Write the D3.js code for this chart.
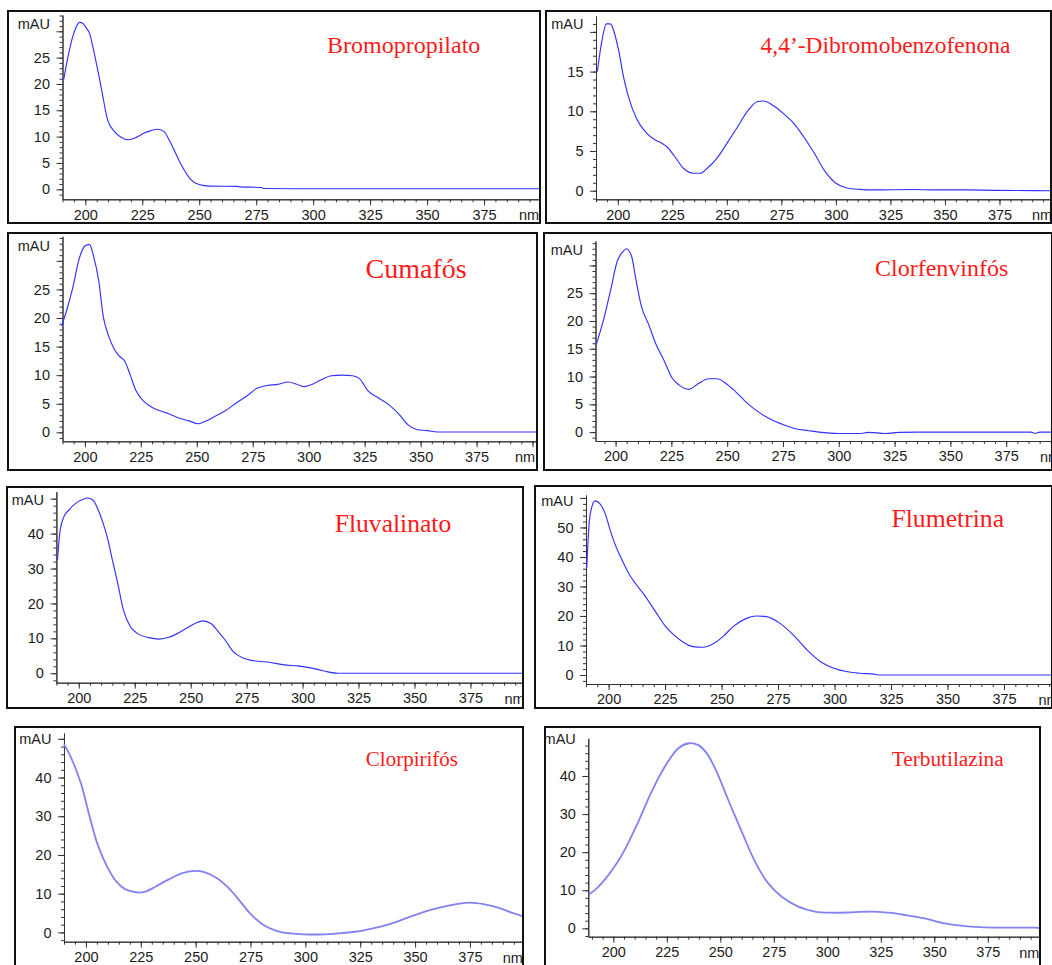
<!DOCTYPE html>
<html>
<head>
<meta charset="utf-8">
<script src="https://cdn.jsdelivr.net/npm/d3@7"></script>
<style>
  body { margin: 0; background: #fff; }
  svg { display: block; }
</style>
</head>
<body>
<svg id="chart" width="1052" height="965"></svg>
<script>
// UV spectra, pairs of [nm, mAU]
var bromopropilato = [[190.5,20.8],[192.3,24.9],[194.5,29],[196,30.8],[197.5,31.7],[199,31.5],[200.5,30.6],[201.8,29.7],
  [203.9,25.9],[206.9,19.5],[209.8,13.2],[212.7,11],[215.7,9.9],[218.6,9.4],[221.5,9.7],[225.5,10.6],[228.5,11.1],
  [231.6,11.4],[234.5,11],[237,9.2],[239.5,7],[242.3,4.5],[246,2],[249.9,0.9],[254.5,0.6],[266.7,0.55],[268,0.45],
  [277.4,0.35],[278,0.15],[300,0.1],[400,0.1]];
var dibromobenzofenona = [[190.6,15],[192.8,19],[194.7,21],[196.6,21],[198.5,19.8],[200.5,17.5],[202.5,14.5],[204.6,12.1],
  [208.9,8.9],[213.4,7.2],[217.2,6.4],[220,6],[222.6,5.5],[225.6,4.5],[230.2,2.8],[234.8,2.2],[237.8,2.2],[240.9,2.8],
  [245.5,4.1],[250.1,6],[254.6,7.9],[260,10.2],[263.8,11.2],[266.8,11.3],[271.4,10.7],[276,9.7],[280.6,8.5],[285.2,6.8],
  [289.7,4.9],[295.1,2.4],[299.7,1],[305,0.35],[311,0.17],[317,0.1],[336,0.15],[345,0.1],[360,0.1],[372,0.05],[400,0]];
var cumafos = [[189.6,18.6],[192.2,21.8],[194.6,25.3],[197.4,30.3],[200,32.6],[202,32.9],[203.9,30.8],[206.2,26.5],
  [208.2,20.3],[210.4,17.1],[213.2,14.5],[215.5,13.3],[217.9,12.4],[220.2,10.1],[222.8,7.3],[226.4,5.4],[230.3,4.3],
  [236.5,3.4],[241.9,2.5],[246.6,2],[250.5,1.5],[253.6,1.9],[258.2,2.8],[262.9,3.8],[267.5,5.1],[272.2,6.3],[276.9,7.7],
  [281.5,8.2],[286.2,8.4],[290.8,8.8],[294.7,8.4],[297.8,8],[301.7,8.4],[305.6,9.2],[310.2,9.9],[314.9,10],[319.6,9.9],
  [322.7,9.4],[326.6,7.2],[331.2,6],[335.9,4.8],[340.5,3.1],[344.4,1.3],[348.3,0.5],[353,0.3],[357.6,0.05],[402,0.05]];
var clorfenvinfos = [[191.3,15.7],[194.8,20.5],[197.8,25.6],[200.7,30.7],[203.3,32.5],[204.8,33],[207.2,31.6],[209,27.7],
  [211.6,22.6],[214.9,19.3],[217.9,16],[221.6,13],[225.4,9.7],[228.4,8.5],[232.8,7.7],[237.3,8.8],[241.8,9.6],[245.5,9.6],
  [249.3,8.8],[253.7,7.3],[258.2,5.5],[262.7,4],[267.2,2.8],[271.6,1.9],[276.1,1.2],[280.6,0.6],[286.6,0.25],[291,0],
  [300,-0.25],[309,-0.25],[313.4,-0.05],[320.9,-0.25],[326.9,-0.05],[335.8,0],[386,0],[388,-0.2],[390,0],[400,0]];
var fluvalinato = [[190.5,32.5],[191.7,41.1],[193.5,45],[195.8,46.9],[198.3,48.5],[201.1,49.6],[203.8,50.2],[206.3,49.6],
  [208.6,46.9],[210.6,43.5],[212.8,38.8],[215,32.5],[217.4,25.8],[219.9,18.2],[223,13.4],[226,11.5],[231.3,10.2],
  [235.8,9.8],[240.3,10.3],[244.9,11.7],[249.4,13.4],[253.2,14.6],[255.4,15],[259.2,14.2],[262.2,12],[265.3,9.6],
  [269,6.2],[273.6,4.3],[278.1,3.6],[285.6,3.1],[291.7,2.4],[297.7,2.1],[302.3,1.7],[306.8,1.1],[311.3,0.4],[315.9,0],[400,0]];
var flumetrina = [[190.3,36.1],[191.4,51.4],[192.6,57],[194,59],[196.3,57.9],[198.5,54.7],[200.7,49.1],[203,44],[206,38.9],
  [208.9,34.4],[211.9,31],[216.4,26.5],[220.8,21.4],[225.3,16.4],[229,13.5],[232.7,11.3],[237.2,9.6],[241.7,9.4],
  [246.1,10.5],[250.6,13],[255.1,16.4],[261,19.2],[265.5,20],[269.9,19.8],[275.9,17.5],[281.8,13.5],[287.8,8.5],
  [293.8,4.5],[299.7,2.3],[305.7,1.1],[310.9,0.6],[317.6,0.3],[319,0],[400,0]];
var clorpirifos = [[190,48.6],[193.1,45.3],[197.7,38.5],[201.5,30.3],[205.4,22.6],[210,16.6],[213.9,13.1],[217.7,11.2],
  [221.5,10.5],[224.5,10.3],[227.5,10.6],[231.6,11.8],[237.8,13.7],[243.9,15.3],[249.3,15.9],[253.2,15.7],[259.4,14.1],
  [264,12],[268.6,9.2],[274.8,4.9],[280.9,1.9],[287.1,0.35],[293.3,-0.26],[299.4,-0.5],[308.7,-0.5],[314.9,-0.26],[322.6,0.17],
  [330.3,1],[338,2.1],[345.7,3.6],[353.4,5.2],[361.1,6.4],[368.8,7.3],[375,7.7],[381.2,7.3],[388.9,6.2],[395,4.9],[400,4]];
var terbutilazina = [[188.5,8.9],[191.5,10.1],[194.5,11.8],[197,13.5],[199.5,15.4],[202.5,17.9],[205.5,20.8],[211.7,28],
  [217.9,35.9],[224.1,42.5],[230.4,47.3],[235.4,48.6],[239.7,48.1],[243.6,46],[248.3,41.1],[253.7,33.7],[260,25.4],
  [266.2,17.5],[272.4,11.8],[278.7,8.3],[286.4,5.7],[294.2,4.4],[302,4.1],[311.4,4.2],[320.7,4.4],[328.5,4.1],[336.3,3.5],
  [345.6,2.6],[355,1.3],[364.3,0.6],[373.7,0.26],[384.6,0.17],[397,0.17],[400,0.05]];

var titles = ["Bromopropilato", "4,4\u2019-Dibromobenzofenona", "Cumafós", "Clorfenvinfós",
              "Fluvalinato", "Flumetrina", "Clorpirifós", "Terbutilazina"];
var spectra = [bromopropilato, dibromobenzofenona, cumafos, clorfenvinfos,
               fluvalinato, flumetrina, clorpirifos, terbutilazina];
var xLabelTicks = [200, 225, 250, 275, 300, 325, 350, 375];
var yUnit = "mAU", xUnit = "nm";

// where each screenshot sits on the page
var layout = [
  {box:[8,11,540,223],    xd:[190,400],   xr:[62.5,541],    yd:[-1.9,33.1],  yr:[199.3,15],   step:5,  sub:1, mau:28.5, title:[327,53.3,24],   thin:true},
  {box:[546,11,1051,223], xd:[190,400],   xr:[596,1054],    yd:[-1.08,22],   yr:[199.3,16],   step:5,  sub:1, mau:29,   title:[760.5,52.7,23.5], thin:true},
  {box:[8,233,537,470],   xd:[190,402],   xr:[62.5,537],    yd:[-1.57,34.3], yr:[441.3,236.3],step:5,  sub:1, mau:251,  title:[365.5,278,28],  thin:true},
  {box:[544,233,1052,470],xd:[191,400],   xr:[595.5,1062],  yd:[-1.6,34.4],  yr:[441,241],    step:5,  sub:1, mau:254.5,title:[875,276,24],    thin:true},
  {box:[7,487,523,708],   xd:[190,400],   xr:[56.4,526.4],  yd:[-2.7,52],    yr:[682.7,491.7],step:10, sub:2, mau:505,  title:[334.7,531.7,25.6], thin:true},
  {box:[535,486,1052,708],xd:[190,400],   xr:[586,1060.5],  yd:[-3.05,61],   yr:[684,495],    step:10, sub:2, mau:506,  title:[891.4,527.3,25.7], thin:true},
  {box:[15,727,523,975],  xd:[190,400],   xr:[64,524.8],    yd:[-2.4,51.5],  yr:[941.7,733],  step:10, sub:2, mau:744,  title:[365.8,765.7,21],  thin:false},
  {box:[545,727,1040,975],xd:[188.3,400], xr:[588.3,1041.3],yd:[-2.2,49.9],  yr:[936.7,738.3],step:10, sub:2, mau:744,  title:[891.7,765.7,21.3], thin:false}
];

var svg = d3.select("#chart");
var axisFont = "'Liberation Sans', Arial, sans-serif";

layout.forEach(function(L, i) {
  var b = L.box;
  var x = d3.scaleLinear().domain(L.xd).range(L.xr);
  var y = d3.scaleLinear().domain(L.yd).range(L.yr);
  var g = svg.append("g").attr("class", "panel");

  g.append("clipPath").attr("id", "clip" + i)
    .append("rect").attr("x", b[0]).attr("y", b[1]).attr("width", b[2] - b[0]).attr("height", b[3] - b[1]);

  var inner = g.append("g").attr("clip-path", "url(#clip" + i + ")");

  // x ticks: minor every 5 nm, labelled every 25
  var xMinor = d3.range(Math.ceil(L.xd[0] / 5) * 5, L.xd[1] + 0.1, 5);
  var xMajor = xMinor.filter(function(v) { return v % 25 === 0; });
  var xAx = inner.append("g").attr("transform", "translate(0," + L.yr[0] + ")");
  xAx.append("g").call(d3.axisBottom(x).tickValues(xMinor).tickSize(3).tickSizeOuter(0).tickFormat(""));
  xAx.append("g").call(d3.axisBottom(x).tickValues(xMajor).tickSize(6).tickSizeOuter(0).tickPadding(4)
      .tickFormat(function(d) { return xLabelTicks.indexOf(d) >= 0 ? d : ""; }));
  xAx.append("text").attr("x", L.xr[1] - 22).attr("y", 21).text(xUnit)
     .attr("text-anchor", "start");

  // y ticks: a label too close to the top gives way to the unit
  var yMinor = d3.range(Math.ceil(L.yd[0] / L.sub) * L.sub, L.yd[1], L.sub);
  var yMajor = yMinor.filter(function(v) { return v % L.step === 0; });
  var yAx = inner.append("g").attr("transform", "translate(" + L.xr[0] + ",0)");
  yAx.append("g").call(d3.axisLeft(y).tickValues(yMinor).tickSize(3).tickSizeOuter(0).tickFormat(""));
  yAx.append("g").call(d3.axisLeft(y).tickValues(yMajor).tickSize(6).tickSizeOuter(0).tickPadding(6.5)
      .tickFormat(function(d) { return (d < 0 || y(d) - L.yr[1] < 30) ? "" : d; }));
  yAx.append("text").attr("x", -12.5).attr("y", L.mau).attr("text-anchor", "end").text(yUnit);

  inner.selectAll(".domain").attr("stroke", "#333");
  inner.selectAll(".tick line").attr("stroke", "#333");
  inner.selectAll("text").attr("font-family", axisFont).attr("font-size", 14.5).attr("fill", "#1c1c1c");

  // spectrum
  var line = d3.line().x(function(d) { return x(d[0]); }).y(function(d) { return y(d[1]); })
    .curve(L.thin ? d3.curveMonotoneX : d3.curveCatmullRom.alpha(0.5));
  inner.append("path").datum(spectra[i]).attr("d", line)
    .attr("fill", "none")
    .attr("stroke", L.thin ? "#3232ff" : "#8282f2")
    .attr("stroke-width", L.thin ? 1.15 : 1.8)
    .attr("stroke-linejoin", "round");

  inner.append("text").attr("x", L.title[0]).attr("y", L.title[1]).text(titles[i])
    .attr("font-family", "'Liberation Serif', 'Times New Roman', serif")
    .attr("font-size", L.title[2]).attr("fill", "#ff1a1a");

  g.append("rect").attr("x", b[0]).attr("y", b[1]).attr("width", b[2] - b[0]).attr("height", b[3] - b[1])
    .attr("fill", "none").attr("stroke", "#111").attr("stroke-width", 2);
});
</script>
</body>
</html>
